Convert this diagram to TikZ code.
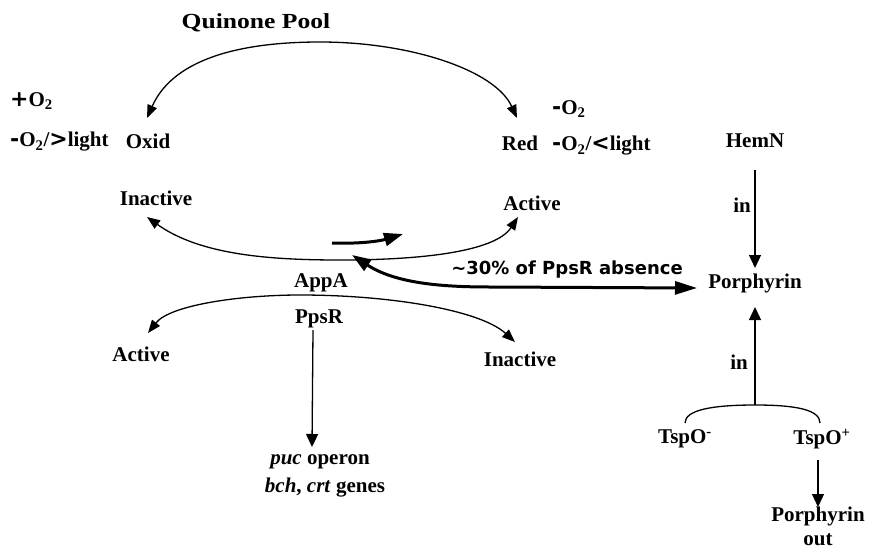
\documentclass[tikz,border=0pt]{standalone}
\usepackage{fontspec}
\setmainfont{Liberation Serif}
\newfontfamily\sansb{DejaVu Sans}
\newfontfamily\widefont[FakeStretch=1.19]{Liberation Serif}
\usetikzlibrary{arrows.meta}
\newcommand{\sym}[1]{{\sansb\bfseries\fontsize{22}{24}\selectfont #1}}
\begin{document}
\begin{tikzpicture}[x=1pt,y=-1pt,
  lbl/.style={font=\fontsize{21}{24}\selectfont\bfseries, inner sep=0pt},
  biglbl/.style={font=\fontsize{21.5}{28}\selectfont\widefont\bfseries, inner sep=0pt},
  slbl/.style={font=\fontsize{18}{22}\selectfont\sansb\bfseries, inner sep=0pt},
  ln/.style={line width=1.3pt},
  thk/.style={line width=3pt},
  arr/.style={-{Triangle[length=13pt,width=12pt]}},
  dbl/.style={{Triangle[length=13pt,width=10pt]}-{Triangle[length=13pt,width=10pt]}},
  tharr/.style={-{Triangle[length=19pt,width=13pt]}},
  thdbl/.style={{Triangle[length=19pt,width=13pt]}-{Triangle[length=22pt,width=13pt]}},
]
\useasboundingbox (0,0) rectangle (869,551);
% texts
\node[biglbl] (quinone) at (256,23) {Quinone Pool};
\node[lbl,anchor=west] (plusO) at (10,101) {\sym{+}O\textsubscript{2}};
\node[lbl,anchor=west] (minusOL) at (10,142) {\sym{-}O\textsubscript{2}/\sym{>}light};
\node[lbl] (oxid) at (148,141) {Oxid};
\node[lbl] (red) at (520,143) {Red};
\node[lbl,anchor=west] (minusO) at (552,109) {\sym{-}O\textsubscript{2}};
\node[lbl,anchor=west] (minusOR) at (552,146) {\sym{-}O\textsubscript{2}/\sym{<}light};
\node[lbl] (hemn) at (755,141) {HemN};
\node[lbl] (inact1) at (156,198) {Inactive};
\node[lbl] (act1) at (532,203) {Active};
\node[lbl] (appa) at (321,283) {AppA};
\node[slbl] (absence) at (567,270) {\textasciitilde30\% of PpsR absence};
\node[lbl] (porph) at (755,283) {Porphyrin};
\node[lbl] (ppsr) at (319,319) {PpsR};
\node[lbl] (act2) at (141,354) {Active};
\node[lbl] (inact2) at (520,359) {Inactive};
\node[lbl] (puc) at (320,462) {\textit{puc} operon};
\node[lbl] (bch) at (325,488) {\textit{bch}, \textit{crt} genes};
\node[lbl] (in1) at (742,205) {in};
\node[lbl] (in2) at (739,362) {in};
\node[lbl] (tspm) at (685,439) {TspO\textsuperscript{-}};
\node[lbl] (tspp) at (822,439) {TspO\textsuperscript{+}};
\node[lbl] (porph2) at (818,516) {Porphyrin};
\node[lbl] (out) at (818,540) {out};
% connector end points
\coordinate (qL) at (147,118);
\coordinate (qR) at (517,118);
\coordinate (aL) at (147,217);
\coordinate (aR) at (518,217);
\coordinate (pL) at (148,333);
\coordinate (pR) at (515,342);
\coordinate (sA) at (332,243);
\coordinate (sB) at (403,234);
\coordinate (tL) at (352,255);
\coordinate (tR) at (697,288);
\coordinate (ps1) at (313,330);
\coordinate (ps2) at (312,447);
\coordinate (h1) at (755,170);
\coordinate (h2) at (755,268);
\coordinate (tsL) at (685,423);
\coordinate (tsTop) at (755,405);
\coordinate (tsR) at (820,423);
\coordinate (pin) at (755,307);
\coordinate (o1) at (818,460);
\coordinate (o2) at (818,507);
% connectors
\draw[ln,dbl] (qL) .. controls (175,55) and (250,42) .. (320,42) .. controls (410,42) and (495,70) .. (qR);
\draw[ln,dbl] (aL) .. controls (200,255) and (270,260) .. (340,260) .. controls (420,260) and (495,252) .. (aR);
\draw[ln,dbl] (pL) .. controls (170,305) and (240,295) .. (300,295) .. controls (390,295) and (480,310) .. (pR);
\draw[thk,tharr] (sA) .. controls (360,244) and (380,241) .. (sB);
\draw[thk,thdbl] (tL) .. controls (395,283) and (440,287) .. (490,287) -- (tR);
\draw[ln,arr] (ps1) -- (ps2);
\draw[ln,arr] (h1) -- (h2);
\draw[ln] (tsL) .. controls (685,410) and (712,405) .. (tsTop) .. controls (797,405) and (820,410) .. (tsR);
\draw[ln,arr] (tsTop) -- (pin);
\draw[ln,arr] (o1) -- (o2);
\end{tikzpicture}
\end{document}
